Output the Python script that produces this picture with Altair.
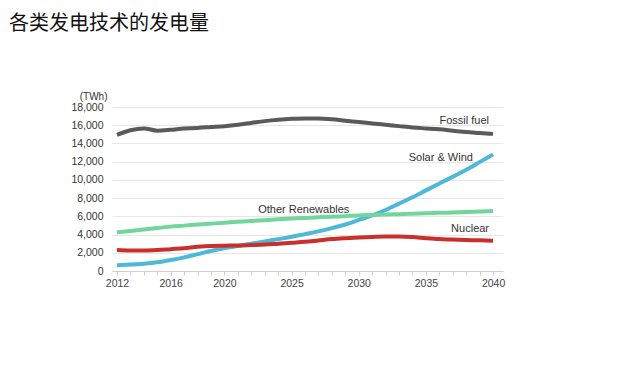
import altair as alt
import pandas as pd

years = list(range(2012, 2041))

fossil = [14950, 15450, 15650, 15400, 15500, 15650, 15700, 15800, 15900, 16050,
          16250, 16450, 16600, 16700, 16750, 16750, 16650, 16500, 16350, 16200,
          16050, 15900, 15750, 15650, 15550, 15400, 15250, 15150, 15050]
solar_wind = [620, 700, 800, 950, 1200, 1500, 1850, 2200, 2500, 2750,
              3000, 3250, 3500, 3750, 4050, 4350, 4700, 5100, 5600, 6100,
              6700, 7400, 8100, 8850, 9600, 10350, 11100, 11950, 12800]
other_ren = [4250, 4400, 4550, 4720, 4870, 4980, 5100, 5200, 5300, 5400,
             5500, 5580, 5670, 5750, 5820, 5890, 5950, 6020, 6100, 6150,
             6200, 6240, 6290, 6330, 6380, 6430, 6480, 6530, 6580]
nuclear = [2300, 2250, 2250, 2300, 2400, 2500, 2650, 2750, 2780, 2800,
           2850, 2900, 3000, 3100, 3200, 3350, 3500, 3600, 3680, 3740,
           3780, 3780, 3720, 3600, 3500, 3450, 3400, 3370, 3330]

series_names = ["Fossil fuel", "Solar & Wind", "Other Renewables", "Nuclear"]
series_colors = ["#5a5a5a", "#4db8d8", "#72d59c", "#c9302c"]

label_text = ["Fossil fuel", "Solar & Wind", "Other Renewables", "Nuclear"]
label_year = [2039.7, 2038.5, 2029.3, 2039.7]
label_value = [16460, 12370, 6700, 4610]

labeled_years = [2012, 2016, 2020, 2025, 2030, 2035, 2040]
y_ticks = list(range(0, 18001, 2000))

rows = []
for name, vals in zip(series_names, [fossil, solar_wind, other_ren, nuclear]):
    for y, v in zip(years, vals):
        rows.append({"year": y, "value": v, "series": name})
df = pd.DataFrame(rows)
labels_df = pd.DataFrame({"text": label_text, "year": label_year, "value": label_value})

font = "Liberation Sans"

x_scale = alt.Scale(domain=[2011.63, 2040.74], nice=False, zero=False)
y_scale = alt.Scale(domain=[0, 18000], nice=False)

x_axis = alt.Axis(values=years, format="d", grid=False, title=None,
                  labelExpr="indexof([" + ",".join(str(v) for v in labeled_years) + "], datum.value) >= 0 ? datum.label : ''",
                  labelFont=font, labelFontSize=10.5, labelColor="#444444",
                  labelPadding=3, tickSize=4, tickColor="#d0d0d0",
                  domainColor="#d0d0d0", labelFlush=False, labelOverlap=False,
                  labelBound=False)
y_axis = alt.Axis(values=y_ticks, format=",d",
                  grid=True, gridColor="#e6e6e6", domain=False, ticks=False,
                  tickSize=0, labelPadding=9, labelOverlap=False,
                  labelFont=font, labelFontSize=10.5, labelColor="#333333",
                  title="(TWh)", titleAngle=0, titleAlign="right",
                  titleBaseline="middle", titleX=-5, titleY=-11,
                  titleFont=font, titleFontSize=10, titleFontWeight="normal",
                  titleColor="#333333")

lines = alt.Chart(df).mark_line(strokeWidth=4, interpolate="monotone").encode(
    x=alt.X("year:Q", scale=x_scale, axis=x_axis),
    y=alt.Y("value:Q", scale=y_scale, axis=y_axis),
    color=alt.Color("series:N", scale=alt.Scale(domain=series_names, range=series_colors),
                    legend=None),
)

texts = alt.Chart(labels_df).mark_text(align="right", baseline="middle", font=font,
                                        fontSize=11, color="#333333").encode(
    x=alt.X("year:Q", scale=x_scale, axis=x_axis),
    y=alt.Y("value:Q", scale=y_scale, axis=y_axis),
    text="text:N",
)

chart = alt.layer(lines, texts).properties(
    width=391,
    height=164,
    background="white",
    autosize=alt.AutoSizeParams(type="none"),
    padding={"left": 104, "top": 99, "right": 120, "bottom": 90},
    title=alt.TitleParams("各类发电技术的发电量", anchor="start", frame="group",
                          font="Noto Sans CJK SC", fontSize=20, fontWeight="normal",
                          color="#111111", dx=-103, offset=57),
).configure_view(strokeWidth=0)

chart.save("out.html", embed_options={"renderer": "svg", "actions": False})
